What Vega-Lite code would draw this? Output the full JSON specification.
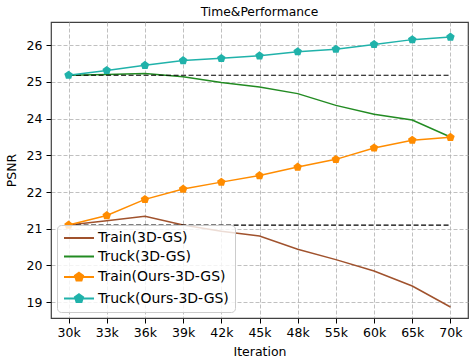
{
  "$schema": "https://vega.github.io/schema/vega-lite/v6.json",
  "width": 417,
  "height": 296,
  "autosize": {"type": "none"},
  "padding": {"left": 51, "top": 22, "right": 1, "bottom": 40},
  "config": {
    "font": "DejaVu Sans",
    "view": {"stroke": "#404040", "strokeWidth": 1.2},
    "axis": {
      "labelFontSize": 12.5, "titleFontSize": 12.5, "labelColor": "#000", "titleColor": "#000",
      "titleFontWeight": "normal", "tickColor": "#000", "tickSize": 5, "domain": false,
      "gridColor": "#b0b0b0", "gridDash": [4, 2], "gridWidth": 0.8
    }
  },
  "title": {"text": "Time&Performance", "fontSize": 12.3, "fontWeight": "normal", "offset": 4, "color": "#000"},
  "datasets": {
    "main": [
      {"it": "30k", "series": "Train(3D-GS)", "psnr": 21.1},
      {"it": "33k", "series": "Train(3D-GS)", "psnr": 21.22},
      {"it": "36k", "series": "Train(3D-GS)", "psnr": 21.34},
      {"it": "39k", "series": "Train(3D-GS)", "psnr": 21.1},
      {"it": "42k", "series": "Train(3D-GS)", "psnr": 20.93},
      {"it": "45k", "series": "Train(3D-GS)", "psnr": 20.8},
      {"it": "48k", "series": "Train(3D-GS)", "psnr": 20.44},
      {"it": "55k", "series": "Train(3D-GS)", "psnr": 20.16},
      {"it": "60k", "series": "Train(3D-GS)", "psnr": 19.85},
      {"it": "65k", "series": "Train(3D-GS)", "psnr": 19.44},
      {"it": "70k", "series": "Train(3D-GS)", "psnr": 18.87},
      {"it": "30k", "series": "Truck(3D-GS)", "psnr": 25.18},
      {"it": "33k", "series": "Truck(3D-GS)", "psnr": 25.2},
      {"it": "36k", "series": "Truck(3D-GS)", "psnr": 25.23},
      {"it": "39k", "series": "Truck(3D-GS)", "psnr": 25.14},
      {"it": "42k", "series": "Truck(3D-GS)", "psnr": 24.98},
      {"it": "45k", "series": "Truck(3D-GS)", "psnr": 24.86},
      {"it": "48k", "series": "Truck(3D-GS)", "psnr": 24.68},
      {"it": "55k", "series": "Truck(3D-GS)", "psnr": 24.36},
      {"it": "60k", "series": "Truck(3D-GS)", "psnr": 24.12},
      {"it": "65k", "series": "Truck(3D-GS)", "psnr": 23.96},
      {"it": "70k", "series": "Truck(3D-GS)", "psnr": 23.5},
      {"it": "30k", "series": "Train(Ours-3D-GS)", "psnr": 21.1},
      {"it": "33k", "series": "Train(Ours-3D-GS)", "psnr": 21.36},
      {"it": "36k", "series": "Train(Ours-3D-GS)", "psnr": 21.8},
      {"it": "39k", "series": "Train(Ours-3D-GS)", "psnr": 22.08},
      {"it": "42k", "series": "Train(Ours-3D-GS)", "psnr": 22.27},
      {"it": "45k", "series": "Train(Ours-3D-GS)", "psnr": 22.45},
      {"it": "48k", "series": "Train(Ours-3D-GS)", "psnr": 22.68},
      {"it": "55k", "series": "Train(Ours-3D-GS)", "psnr": 22.89},
      {"it": "60k", "series": "Train(Ours-3D-GS)", "psnr": 23.2},
      {"it": "65k", "series": "Train(Ours-3D-GS)", "psnr": 23.41},
      {"it": "70k", "series": "Train(Ours-3D-GS)", "psnr": 23.49},
      {"it": "30k", "series": "Truck(Ours-3D-GS)", "psnr": 25.18},
      {"it": "33k", "series": "Truck(Ours-3D-GS)", "psnr": 25.31},
      {"it": "36k", "series": "Truck(Ours-3D-GS)", "psnr": 25.45},
      {"it": "39k", "series": "Truck(Ours-3D-GS)", "psnr": 25.58},
      {"it": "42k", "series": "Truck(Ours-3D-GS)", "psnr": 25.64},
      {"it": "45k", "series": "Truck(Ours-3D-GS)", "psnr": 25.71},
      {"it": "48k", "series": "Truck(Ours-3D-GS)", "psnr": 25.82},
      {"it": "55k", "series": "Truck(Ours-3D-GS)", "psnr": 25.89},
      {"it": "60k", "series": "Truck(Ours-3D-GS)", "psnr": 26.02},
      {"it": "65k", "series": "Truck(Ours-3D-GS)", "psnr": 26.15},
      {"it": "70k", "series": "Truck(Ours-3D-GS)", "psnr": 26.22}
    ],
    "ref": [
      {"it": "30k", "psnr": 25.18, "g": "truck"},
      {"it": "70k", "psnr": 25.18, "g": "truck"},
      {"it": "30k", "psnr": 21.1, "g": "train"},
      {"it": "70k", "psnr": 21.1, "g": "train"}
    ]
  },
  "data": {"name": "main"},
  "encoding": {
    "x": {
      "field": "it", "type": "ordinal", "title": "Iteration",
      "sort": ["30k", "33k", "36k", "39k", "42k", "45k", "48k", "55k", "60k", "65k", "70k"],
      "scale": {"type": "point", "padding": 0.46},
      "axis": {"labelAngle": 0, "grid": true, "labelPadding": 3, "titlePadding": 7}
    },
    "y": {
      "field": "psnr", "type": "quantitative", "title": "PSNR",
      "scale": {"domain": [18.57, 26.63], "nice": false, "zero": false},
      "axis": {"values": [19, 20, 21, 22, 23, 24, 25, 26], "grid": true, "labelPadding": 4, "titlePadding": 8}
    }
  },
  "layer": [
    {
      "transform": [{"filter": "indexof(datum.series, 'Ours') < 0"}],
      "mark": {"type": "line", "strokeWidth": 1.5},
      "encoding": {
        "color": {
          "field": "series", "type": "nominal",
          "scale": {
            "domain": ["Train(3D-GS)", "Truck(3D-GS)", "Train(Ours-3D-GS)", "Truck(Ours-3D-GS)"],
            "range": ["#a0522d", "#228b22", "#ff8c00", "#20b2aa"]
          },
          "legend": {
            "title": null, "orient": "bottom-left", "offset": 6,
            "labelFontSize": 14, "labelColor": "#000", "symbolSize": 100, "symbolOffset": 9,
            "labelOffset": 12, "rowPadding": 4.5, "padding": 6,
            "fillColor": "rgba(255,255,255,0.8)", "strokeColor": "#cccccc", "cornerRadius": 4,
            "symbolStrokeWidth": 2,
            "encode": {
              "symbols": {
                "update": {
                  "shape": {"signal": "indexof(datum.label, 'Ours') >= 0 ? 'M-3,0H3M0,-0.85L0.81,-0.26L0.5,0.69L-0.5,0.69L-0.81,-0.26Z' : 'M-3,0H3'"},
                  "fill": {"signal": "indexof(datum.label, 'Ours') >= 0 ? scale('color', datum.value) : 'transparent'"},
                  "stroke": {"signal": "scale('color', datum.value)"},
                  "strokeWidth": {"value": 2},
                  "opacity": {"value": 1}
                }
              }
            }
          }
        }
      }
    },
    {
      "data": {"name": "ref"},
      "mark": {"type": "line", "color": "#000", "strokeWidth": 1.2, "strokeDash": [5, 2.5]},
      "encoding": {"detail": {"field": "g", "type": "nominal"}}
    },
    {
      "transform": [{"filter": "indexof(datum.series, 'Ours') >= 0"}],
      "mark": {"type": "line", "strokeWidth": 1.5},
      "encoding": {"color": {"field": "series", "type": "nominal"}}
    },
    {
      "transform": [{"filter": "indexof(datum.series, 'Ours') >= 0"}],
      "mark": {"type": "point", "shape": "M0,-1L0.951,-0.309L0.588,0.809L-0.588,0.809L-0.951,-0.309Z", "filled": true, "size": 80, "opacity": 1},
      "encoding": {"color": {"field": "series", "type": "nominal"}}
    }
  ]
}
